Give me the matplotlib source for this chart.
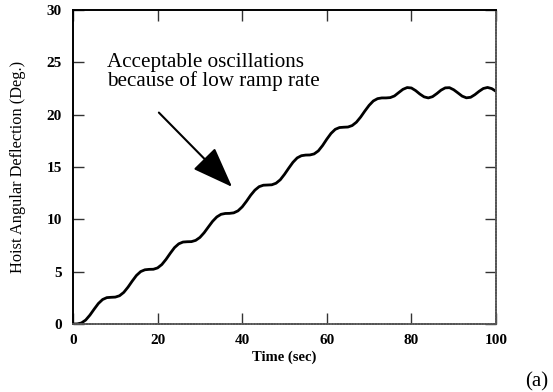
import matplotlib
matplotlib.use("Agg")
import matplotlib.pyplot as plt

# ---- data ----
time_s = list(range(0, 101))
deflection_deg = [
    0.00, 0.01, 0.10, 0.38, 0.85, 1.42, 1.96, 2.34, 2.52, 2.55,
    2.57, 2.70, 3.02, 3.52, 4.10, 4.64, 5.01, 5.18, 5.22, 5.23,
    5.36, 5.68, 6.18, 6.76, 7.30, 7.66, 7.83, 7.86, 7.87, 7.99,
    8.27, 8.72, 9.27, 9.81, 10.23, 10.48, 10.56, 10.57, 10.62, 10.81,
    11.19, 11.72, 12.30, 12.79, 13.12, 13.26, 13.28, 13.30, 13.45, 13.78,
    14.30, 14.89, 15.45, 15.87, 16.08, 16.14, 16.15, 16.25, 16.54, 17.05,
    17.66, 18.21, 18.60, 18.77, 18.80, 18.82, 18.96, 19.28, 19.77, 20.35,
    20.89, 21.31, 21.53, 21.60, 21.60, 21.63, 21.79, 22.11, 22.42, 22.59,
    22.55, 22.30, 21.97, 21.70, 21.60, 21.72, 22.01, 22.34, 22.56, 22.58,
    22.38, 22.08, 21.77, 21.61, 21.66, 21.91, 22.23, 22.50, 22.60, 22.49,
    22.23,
]
x_ticks = [0, 20, 40, 60, 80, 100]
y_ticks = [0, 5, 10, 15, 20, 25, 30]
x_label = "Time (sec)"
y_label = "Hoist Angular Deflection (Deg.)"
note_text = "Acceptable oscillations\nbecause of low ramp rate"
panel_tag = "(a)"

serif = ["Liberation Serif", "DejaVu Serif"]

fig = plt.figure(figsize=(5.53, 3.92), dpi=100)
ax = fig.add_axes([73 / 553, (392 - 324) / 392, (496 - 73) / 553, (324 - 10) / 392])

ax.plot(time_s, deflection_deg, color="black", lw=2.0, solid_capstyle="round",
        solid_joinstyle="round")

ax.set_xlim(0, 100)
ax.set_ylim(0, 30)
ax.set_xticks(x_ticks)
ax.set_yticks(y_ticks)
ax.set_xticklabels([str(v) for v in x_ticks], family=serif, fontweight="bold", fontsize=11)
ax.set_yticklabels([str(v) for v in y_ticks], family=serif, fontweight="bold", fontsize=11)
ax.tick_params(direction="in", length=8, width=1.0, color="#333333",
               top=True, right=True, pad=7)
ax.tick_params(axis="y", pad=8)

for side in ("left", "top"):
    ax.spines[side].set_linewidth(1.4)
    ax.spines[side].set_color("black")
for side in ("bottom", "right"):
    ax.spines[side].set_linewidth(1.3)
    ax.spines[side].set_color("#555555")
    ax.spines[side].set_linestyle((0, (1, 0.6)))

ax.set_xlabel(x_label, family=serif, fontweight="bold", fontsize=10.5, va="center")
ax.xaxis.set_label_coords(0.5, -(357 - 324) / 314)
ax.set_ylabel(y_label, family=serif, fontsize=11.8, va="center")
ax.yaxis.set_label_coords((18 - 73) / 423, 0.5)

ax.annotate("", xy=(37.6, 13.1), xytext=(20.3, 20.2),
            arrowprops=dict(arrowstyle="-|>,head_length=1.6,head_width=0.6",
                            mutation_scale=16, lw=1.5, color="black",
                            shrinkA=0, shrinkB=0))
ax.text(8.0, 25.9, note_text, family=serif, fontsize=15.2, va="top", ha="left",
        linespacing=0.92)

fig.text(537 / 553, 1 - 382 / 392, panel_tag, family=serif, fontsize=15,
         ha="center", va="center")

fig.savefig("out.png", dpi=100)
